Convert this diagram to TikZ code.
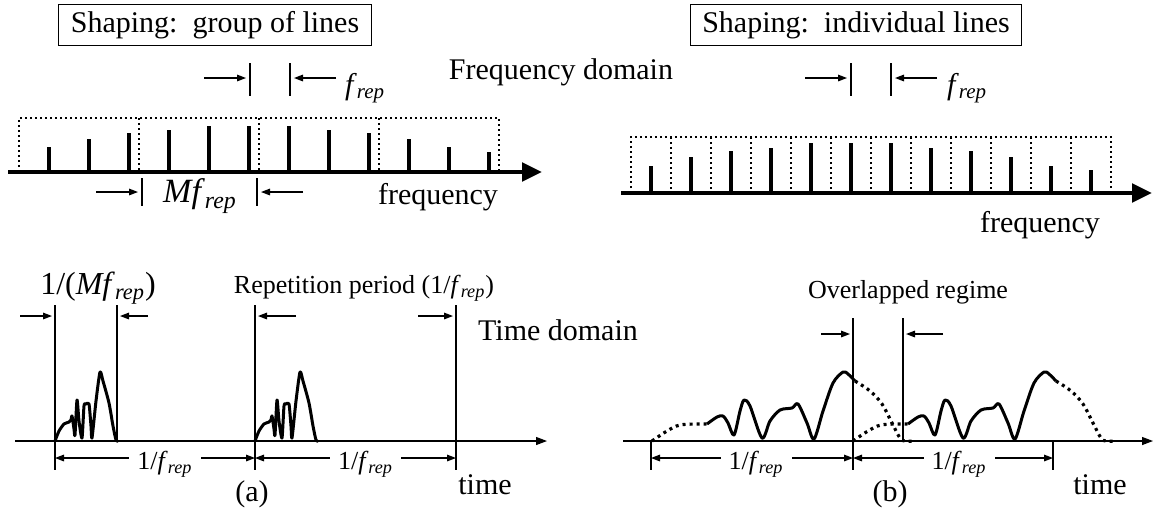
\documentclass[tikz,border=0pt]{standalone}
\usepackage{fontspec}
\setmainfont{Liberation Serif}
\usetikzlibrary{arrows.meta}

\newcommand{\frep}{\textit{f}\textsubscript{\textit{rep}}}
\newcommand{\bigfont}{\fontsize{15}{18}\selectfont}
\newcommand{\smallfont}{\fontsize{13}{15}\selectfont}

% two ticks with inward arrows: left x, right x, top, bottom, arrow y
\newcommand{\gapmark}[5]{%
  \draw[guide] (#1,#3) -- (#1,#4);%
  \draw[guide] (#2,#3) -- (#2,#4);%
  \draw[marker] ({#1-46},#5) -- ({#1-4},#5);%
  \draw[marker] ({#2+46},#5) -- ({#2+4},#5);%
}
% short burst sitting on the time axis
\newcommand{\burst}[1]{%
  \draw[pulse,shift={(#1,441)}] plot[smooth,tension=.4] coordinates {(0,0) (4,-10) (9,-17) (14,-19) (16,-21) (17,-25) (19,-12) (20,-6) (22,-41) (24,-20) (27,-3) (29,-35) (31,-37) (34,-37) (36,-15) (37,-3) (41,-40) (45,-69) (48,-60) (54,-38) (58,-15) (61,-1) (63,0)};%
}
% long pulse with dotted leading and trailing edges
\newcommand{\wave}[1]{%
  \draw[tail,shift={(#1,441)}] plot[smooth,tension=.6] coordinates {(0,0) (15,-10) (28,-16) (48,-17) (55,-17)};%
  \draw[pulse,shift={(#1,441)}] plot[smooth,tension=.5] coordinates {(55,-17) (65,-24) (71,-25) (76,-18) (82,-6) (88,-30) (92,-41) (98,-35) (110,-3) (118,-20) (128,-31) (140,-33) (146,-37) (155,-18) (162,-2) (171,-30) (181,-58) (191,-69) (196,-67) (203,-60)};%
  \draw[tail,shift={(#1,441)}] plot[smooth,tension=.6] coordinates {(203,-60) (218,-50) (230,-37) (240,-18) (248,-3) (253,0) (263,0)};%
}

\begin{document}
\begin{tikzpicture}[x=0.5pt,y=-0.5pt,font=\bigfont,
  tag/.style={draw,line width=.6pt,inner xsep=6pt,inner ysep=3.5pt},
  guide/.style={line width=.6pt},
  marker/.style={line width=.6pt,-{Triangle[length=4.5pt,width=3.3pt]}},
  dim/.style={line width=.6pt,{Triangle[length=4.5pt,width=3.3pt]}-{Triangle[length=4.5pt,width=3.3pt]}},
  lbl/.style={fill=white,font=\smallfont,inner xsep=4pt,inner ysep=1pt,yshift=-3pt},
  band/.style={line width=1.1pt,dash pattern=on 1.1pt off 1.4pt},
  spike/.style={line width=2.3pt},
  faxis/.style={line width=2.4pt,-{Triangle[length=10pt,width=9pt]}},
  taxis/.style={line width=.6pt,-{Triangle[length=5.5pt,width=4pt]}},
  pulse/.style={line width=1.5pt,line join=round},
  tail/.style={line width=1.6pt,dash pattern=on 1.5pt off 2pt}]
\useasboundingbox (0,0) rectangle (1154,510);

% spectra
\node[tag] (shapeA) at (215,25) {Shaping:\ \ group of lines};
\node[tag] (shapeB) at (856,25) {Shaping:\ \ individual lines};
\node (freqdom) at (561,72) {Frequency domain};

\gapmark{250}{290}{63}{96}{78}
\node[anchor=west] (frepA) at (338,88) {\frep};
\gapmark{851}{891}{63}{96}{78}
\node[anchor=west] (frepB) at (940,88) {\frep};

\draw[band] (19,172) -- (19,118) -- (499,118) -- (499,172);
\foreach \x in {139,259,379} \draw[band] (\x,118) -- (\x,172);
\foreach \h [count=\i from 0] in {24.6,33.5,39.4,41.9,45.9,45.9,45.9,41.9,39.4,33.5,24.6,20.1}
  \draw[spike] ({49+40*\i},172) -- ++(0,-\h);
\draw[faxis] (8,172) -- (542,172);

\draw[band] (631,193) -- (631,137) -- (1111,137) -- (1111,193);
\foreach \x in {671,711,...,1071} \draw[band] (\x,137) -- (\x,193);
\foreach \h [count=\i from 0] in {27.4,36.1,42.4,45.4,50,50,50,45.4,42.4,36.1,27.4,23}
  \draw[spike] ({651+40*\i},193) -- ++(0,-\h);
\draw[faxis] (621,193) -- (1152,193);

\gapmark{142}{257}{178}{206}{192}
\node (mfrep) at (200,196) {\fontsize{17}{20}\selectfont\textit{Mf}\textsubscript{\textit{rep}}};
\node (freqA) at (438,197) {frequency};
\node (freqB) at (1040,225) {frequency};

% pulse trains
\node (pwidth) at (98,288) {\fontsize{16}{19}\selectfont 1/(\textit{Mf}\textsubscript{\textit{rep}})};
\node[font=\smallfont] (repper) at (364,288) {Repetition period (1/\frep)};
\node (timedom) at (558,330) {Time domain};
\node[font=\smallfont] (overlap) at (908,292) {Overlapped regime};

\draw[guide] (55,305) -- (55,470);
\draw[guide] (117,305) -- (117,441);
\draw[guide] (255,305) -- (255,470);
\draw[guide] (456,305) -- (456,470);
\draw[marker] (20,316) -- (52,316);
\draw[marker] (148,316) -- (120,316);
\draw[marker] (296,316) -- (258,316);
\draw[marker] (418,316) -- (453,316);

\draw[guide] (853,318) -- (853,470);
\draw[guide] (903,318) -- (903,441);
\draw[guide] (651,441) -- (651,470);
\draw[guide] (1053,441) -- (1053,470);
\draw[marker] (821,334) -- (850,334);
\draw[marker] (943,334) -- (906,334);

\burst{55}
\burst{255}
\wave{652}
\wave{853}
\draw[taxis] (15,441) -- (547,441);
\draw[taxis] (623,441) -- (1153,441);

\draw[dim] (55,458) -- (255,458) node[pos=.55,lbl] (perA1) {1/\frep};
\draw[dim] (255,458) -- (456,458) node[pos=.55,lbl] (perA2) {1/\frep};
\draw[dim] (651,458) -- (853,458) node[pos=.52,lbl] (perB1) {1/\frep};
\draw[dim] (853,458) -- (1053,458) node[pos=.53,lbl] (perB2) {1/\frep};

\node (timeA) at (485,485) {time};
\node (timeB) at (1100,485) {time};
\node (capA) at (252,494) {(a)};
\node (capB) at (890,494) {(b)};
\end{tikzpicture}
\end{document}
